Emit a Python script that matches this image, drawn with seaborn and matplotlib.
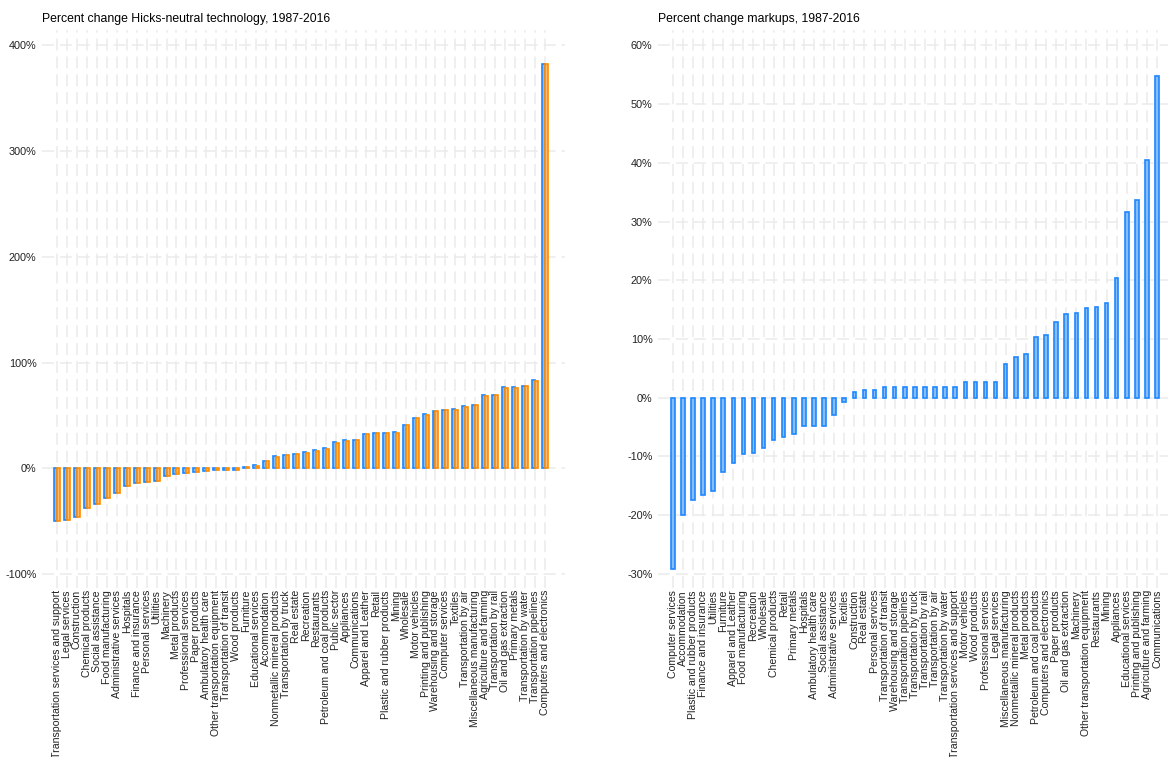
import pandas as pd
import seaborn as sns
import matplotlib.pyplot as plt
from matplotlib.ticker import PercentFormatter, MultipleLocator

# left panel: two estimates per sector, sorted
hicks_sectors = [
    "Transportation services and support", "Legal services", "Construction",
    "Chemical products", "Social assistance", "Food manufacturing",
    "Administrative services", "Hospitals", "Finance and insurance",
    "Personal services", "Utilities", "Machinery", "Metal products",
    "Professional services", "Paper products", "Ambulatory health care",
    "Other transportation equipment", "Transportation of transit",
    "Wood products", "Furniture", "Educational services", "Accommodation",
    "Nonmetallic mineral products", "Transportation by truck", "Real estate",
    "Recreation", "Restaurants", "Petroleum and coal products",
    "Public sector", "Appliances", "Communications", "Apparel and Leather",
    "Retail", "Plastic and rubber products", "Mining", "Wholesale",
    "Motor vehicles", "Printing and publishing", "Warehousing and storage",
    "Computer services", "Textiles", "Transportation by air",
    "Miscellaneous manufacturing", "Agriculture and farming",
    "Transportation by rail", "Oil and gas extraction", "Primary metals",
    "Transportation by water", "Transportation pipelines",
    "Computers and electronics",
]
hicks_a = [-49.9, -49.2, -46.1, -37.8, -33.8, -27.8, -23.1, -16.7, -13.6, -13.0,
           -12.3, -7.3, -5.1, -4.2, -3.5, -2.9, -1.9, -1.3, -1.3, 1.0,
           2.8, 7.2, 11.4, 12.5, 13.9, 15.1, 17.0, 18.9, 24.6, 26.5,
           27.1, 32.5, 33.4, 33.4, 34.1, 41.0, 48.0, 51.1, 54.6, 54.9,
           55.8, 58.7, 60.3, 69.1, 69.7, 76.6, 76.6, 78.2, 83.3, 381.9]
hicks_b = [-49.7, -49.0, -46.0, -37.6, -33.5, -27.6, -23.0, -16.9, -13.8, -13.1,
           -12.1, -7.1, -5.0, -4.0, -3.4, -2.8, -1.8, -1.4, -1.2, 0.9,
           2.6, 7.0, 11.2, 12.4, 13.7, 14.9, 16.8, 18.7, 24.3, 26.2,
           26.9, 32.3, 33.2, 33.2, 33.9, 40.8, 47.6, 50.7, 54.2, 54.7,
           55.5, 58.4, 60.0, 68.8, 69.5, 76.4, 76.4, 77.9, 83.0, 381.5]

markup_sectors = [
    "Computer services", "Accommodation", "Plastic and rubber products",
    "Finance and insurance", "Utilities", "Furniture", "Apparel and Leather",
    "Food manufacturing", "Recreation", "Wholesale", "Chemical products",
    "Retail", "Primary metals", "Hospitals", "Ambulatory health care",
    "Social assistance", "Administrative services", "Textiles",
    "Construction", "Real estate", "Personal services",
    "Transportation of transit", "Warehousing and storage",
    "Transportation pipelines", "Transportation by truck",
    "Transportation by rail", "Transportation by air",
    "Transportation by water", "Transportation services and support",
    "Motor vehicles", "Wood products", "Professional services",
    "Legal services", "Miscellaneous manufacturing",
    "Nonmetallic mineral products", "Metal products",
    "Petroleum and coal products", "Computers and electronics",
    "Paper products", "Oil and gas extraction", "Machinery",
    "Other transportation equipment", "Restaurants", "Mining", "Appliances",
    "Educational services", "Printing and publishing",
    "Agriculture and farming", "Communications",
]
markup_values = [-29.2, -19.9, -17.4, -16.6, -15.9, -12.7, -11.1, -9.6, -9.4, -8.5,
                 -7.2, -6.6, -6.2, -4.8, -4.8, -4.8, -2.9, -0.8, 1.0, 1.4,
                 1.4, 1.8, 1.8, 1.8, 1.8, 1.8, 1.8, 1.8, 1.8, 2.6,
                 2.7, 2.7, 2.7, 5.7, 6.9, 7.4, 10.3, 10.6, 12.9, 14.3,
                 14.5, 15.3, 15.4, 16.1, 20.4, 31.6, 33.6, 40.5, 54.7]

blue, blue_fill = "#1E88FF", "#86BDF7"
orange, orange_fill = "#FF8C00", "#FFBA6B"
grid_col = "#EBEBEB"

sns.set_theme(style="white")
plt.rcParams['font.family'] = ['Liberation Sans Narrow', 'Liberation Sans', 'DejaVu Sans']
plt.rcParams['axes.unicode_minus'] = False
plt.rcParams['lines.scale_dashes'] = False

fig = plt.figure(figsize=(11.7, 7.57), dpi=100)
ax1 = fig.add_axes([0.0359, 0.2232, 0.447, 0.7371])
ax2 = fig.add_axes([0.5624, 0.2232, 0.436, 0.7371])

hicks = pd.DataFrame({
    "sector": hicks_sectors * 2,
    "change": hicks_a + hicks_b,
    "series": ["a"] * len(hicks_a) + ["b"] * len(hicks_b),
})
sns.barplot(data=hicks, x="sector", y="change", hue="series", order=hicks_sectors,
            palette=[blue_fill, orange_fill], width=0.6, saturation=1,
            linewidth=1.2, legend=False, ax=ax1)
for cont, ec in zip(ax1.containers, [blue, orange]):
    for p in cont:
        p.set_edgecolor(ec)

markups = pd.DataFrame({"sector": markup_sectors, "change": markup_values})
sns.barplot(data=markups, x="sector", y="change", order=markup_sectors,
            color=blue_fill, edgecolor=blue, width=0.35, saturation=1,
            linewidth=1.2, ax=ax2)

ax1.set_ylim(-113, 414)
ax1.set_xlim(-1.5, 51.0)
ax1.yaxis.set_major_locator(MultipleLocator(100))
ax2.set_ylim(-32.4, 62.6)
ax2.set_xlim(-1.46, 49.1)
ax2.yaxis.set_major_locator(MultipleLocator(10))

titles = ["Percent change Hicks-neutral technology, 1987-2016",
          "Percent change markups, 1987-2016"]
for ax, t in zip([ax1, ax2], titles):
    ax.yaxis.set_major_formatter(PercentFormatter(100, decimals=0))
    ax.set_xlabel("")
    ax.set_ylabel("")
    ax.grid(True, color=grid_col, linestyle=(0, (8.6, 4.3)), linewidth=1.1)
    ax.set_axisbelow(True)
    for s in ax.spines.values():
        s.set_visible(False)
    ax.tick_params(axis="x", rotation=90, labelsize=7.6, pad=1.5, length=0, colors="#222222")
    ax.tick_params(axis="y", labelsize=7.8, pad=4, length=0, colors="#222222")
    ax.set_title(t, loc="left", fontsize=8.8, pad=6, color="black")

fig.savefig("out.png", dpi=100)
